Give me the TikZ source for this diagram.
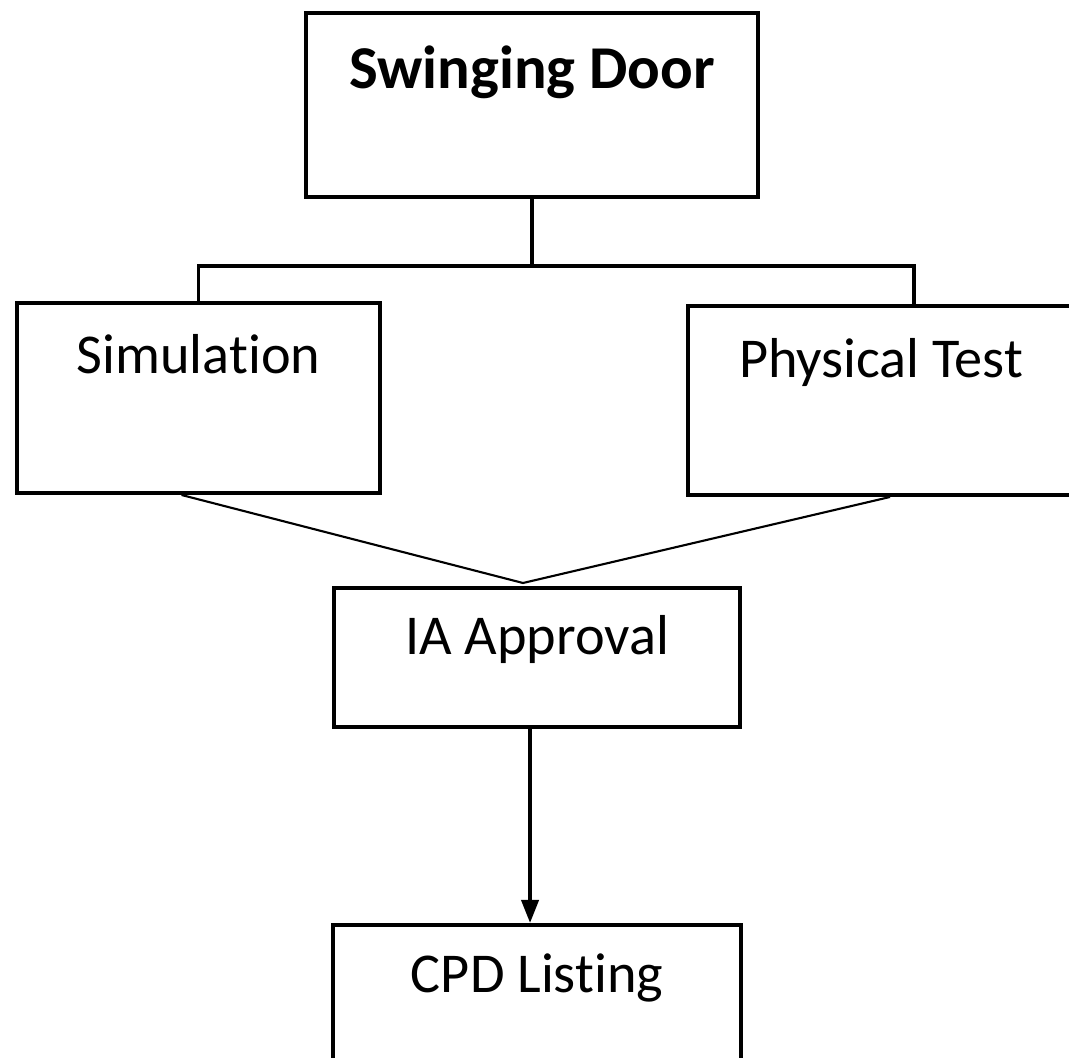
\documentclass[tikz,border=0pt]{standalone}
\usepackage{fontspec}
\setmainfont{Carlito}[Ligatures={NoCommon}]
\usetikzlibrary{arrows.meta}
\tikzset{
  box/.style={draw, line width=1.1pt, inner sep=0pt, anchor=north west, font=\fontsize{16}{19}\selectfont},
  link/.style={line width=1.1pt},
  slant/.style={line width=0.6pt},
}
\begin{document}
\begin{tikzpicture}[x=0.01cm, y=-0.01cm, >={Triangle[width=0.17cm,length=0.23cm]}]
    \useasboundingbox (0,0) rectangle (1069,1058);
    \node[box, minimum width=4.52cm, text height=0.76cm, text depth=1.08cm, font=\fontsize{17.3}{21}\selectfont\bfseries] (door) at (304,11) {Swinging Door};
    \node[box, minimum width=3.63cm, text height=0.71cm, text depth=1.19cm] (sim) at (15,301) {Simulation};
    \node[box, minimum width=3.86cm, text height=0.72cm, text depth=1.17cm] (phys) at (686,304) {Physical Test};
    \node[box, minimum width=4.06cm, text height=0.67cm, text depth=0.72cm] (ia) at (332,586) {IA Approval};
    \node[box, minimum width=4.08cm, text height=0.68cm, text depth=0.95cm] (cpd) at (331,923) {CPD Listing};
\path(door.south)++(0,67)coordinate(fork);
\coordinate (meet) at (523,583);
\draw[link](door.south)--(fork);
\draw[link](sim.north)|-(fork);
\draw[link](fork)-|([xshift=0.33cm]phys.north);
\draw[slant]([xshift=-0.17cm]sim.south)--(meet)--([xshift=0.09cm]phys.south);
\draw[link,->]([xshift=-0.07cm]ia.south)--([xshift=-0.07cm]cpd.north);

\end{tikzpicture}
\end{document}
